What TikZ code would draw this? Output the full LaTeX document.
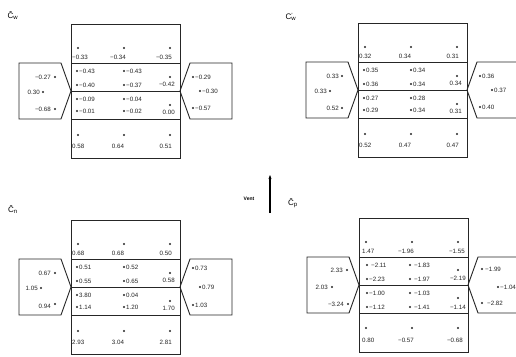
\documentclass[tikz,border=0pt]{standalone}
\usepackage{fontspec}
\setmainfont{Liberation Sans}
\usetikzlibrary{arrows.meta}
\newcounter{vn}
\newcommand\vdot[2]{\fill[dotc] (#1,#2) circle (1.1);}
\newcommand\vtxt[4][center]{\stepcounter{vn}\node[val,anchor=#1] (v\arabic{vn}) at (#2,#3) {#4};}
\newcommand\panelframe{%
  \draw[boxline] (0,0) rectangle (109,134);
  \draw[boxline] (0,39) -- (109,39);
  \draw[boxline] (0,67) -- (109,67);
  \draw[boxline] (0,95) -- (109,95);
  \draw[boxline] (0,67) -- (-10,39) -- (-52,39) -- (-52,95) -- (-10,95) -- cycle;
  \draw[boxline] (109,67) -- (119,39) -- (161,39) -- (161,95) -- (119,95) -- cycle;
}
\tikzset{
  boxline/.style={draw=black!85, line width=0.9pt, line join=miter},
  dotc/.style={black!85},
  val/.style={inner sep=0pt, font=\fontsize{6.2}{7}\selectfont, text=black!85},
  plabel/.style={inner sep=0pt, font=\fontsize{8}{9}\selectfont},
}
\begin{document}
\begin{tikzpicture}[x=1pt,y=-1pt]
\clip (0,0) rectangle (516,356);
\fill[white] (0,0) rectangle (516,356);

% ---------- top-left panel ----------
\node[plabel] (lw) at (13,16) {Ĉ\textsubscript{w}};
\begin{scope}[shift={(71,24)}]
\panelframe
\vdot{7}{24}\vdot{53}{24}\vdot{99}{24}
\vtxt[west]{1}{33}{−0.33}\vtxt{47}{33}{−0.34}\vtxt[east]{101}{33}{−0.35}
\vdot{6}{47}\vtxt[west]{8}{47}{−0.43}\vdot{53}{47}\vtxt[west]{55}{47}{−0.43}
\vdot{6}{61}\vtxt[west]{8}{61}{−0.40}\vdot{53}{61}\vtxt[west]{55}{61}{−0.37}
\vdot{99}{53}\vtxt[east]{104}{60}{−0.42}
\vdot{6}{75}\vtxt[west]{8}{75}{−0.09}\vdot{53}{75}\vtxt[west]{55}{75}{−0.04}
\vdot{6}{87}\vtxt[west]{8}{87}{−0.01}\vdot{53}{87}\vtxt[west]{55}{87}{−0.02}
\vdot{99}{81}\vtxt[east]{104}{88}{0.00}
\vdot{7}{111}\vdot{53}{111}\vdot{99}{111}
\vtxt[west]{1}{122}{0.58}\vtxt{47}{122}{0.64}\vtxt[east]{101}{122}{0.51}
\vtxt[east]{-20}{53}{−0.27}\vdot{-16}{53}
\vtxt[east]{-31}{68}{0.30}\vdot{-28}{68}
\vtxt[east]{-20}{85}{−0.68}\vdot{-16}{85}
\vdot{122}{53}\vtxt[west]{124}{53}{−0.29}
\vdot{129}{67}\vtxt[west]{131}{67}{−0.30}
\vdot{122}{84}\vtxt[west]{124}{84}{−0.57}
\end{scope}

% ---------- top-right panel ----------
\node[plabel] (lw2) at (291,17) {C\rlap{\textsuperscript{'}}\textsubscript{w}};
\begin{scope}[shift={(358,23)}]
\panelframe
\vdot{7}{24}\vdot{53}{24}\vdot{99}{24}
\vtxt[west]{1}{33}{0.32}\vtxt{47}{33}{0.34}\vtxt[east]{101}{33}{0.31}
\vdot{6}{47}\vtxt[west]{8}{47}{0.35}\vdot{53}{47}\vtxt[west]{55}{47}{0.34}
\vdot{6}{61}\vtxt[west]{8}{61}{0.36}\vdot{53}{61}\vtxt[west]{55}{61}{0.34}
\vdot{99}{53}\vtxt[east]{104}{60}{0.34}
\vdot{6}{75}\vtxt[west]{8}{75}{0.27}\vdot{53}{75}\vtxt[west]{55}{75}{0.28}
\vdot{6}{87}\vtxt[west]{8}{87}{0.29}\vdot{53}{87}\vtxt[west]{55}{87}{0.34}
\vdot{99}{81}\vtxt[east]{104}{88}{0.31}
\vdot{7}{111}\vdot{53}{111}\vdot{99}{111}
\vtxt[west]{1}{122}{0.52}\vtxt{47}{122}{0.47}\vtxt[east]{101}{122}{0.47}
\vtxt[east]{-19}{53}{0.33}\vdot{-16}{53}
\vtxt[east]{-31}{68}{0.33}\vdot{-28}{68}
\vtxt[east]{-19}{85}{0.52}\vdot{-16}{85}
\vdot{122}{53}\vtxt[west]{124}{53}{0.36}
\vdot{134}{67}\vtxt[west]{136}{67}{0.37}
\vdot{122}{84}\vtxt[west]{124}{84}{0.40}
\end{scope}

% ---------- bottom-left panel ----------
\node[plabel] (ln) at (13,210) {Ĉ\textsubscript{n}};
\begin{scope}[shift={(71,220)}]
\panelframe
\vdot{7}{24}\vdot{53}{24}\vdot{99}{24}
\vtxt[west]{1}{33}{0.68}\vtxt{47}{33}{0.68}\vtxt[east]{101}{33}{0.50}
\vdot{6}{47}\vtxt[west]{8}{47}{0.51}\vdot{53}{47}\vtxt[west]{55}{47}{0.52}
\vdot{6}{61}\vtxt[west]{8}{61}{0.55}\vdot{53}{61}\vtxt[west]{55}{61}{0.65}
\vdot{99}{53}\vtxt[east]{104}{60}{0.58}
\vdot{6}{75}\vtxt[west]{8}{75}{3.80}\vdot{53}{75}\vtxt[west]{55}{75}{0.04}
\vdot{6}{87}\vtxt[west]{8}{87}{1.14}\vdot{53}{87}\vtxt[west]{55}{87}{1.20}
\vdot{99}{81}\vtxt[east]{104}{88}{1.70}
\vdot{7}{111}\vdot{53}{111}\vdot{99}{111}
\vtxt[west]{1}{122}{2.93}\vtxt{47}{122}{3.04}\vtxt[east]{101}{122}{2.81}
\vtxt[east]{-20}{53}{0.67}\vdot{-16}{53}
\vtxt[east]{-33}{68}{1.05}\vdot{-30}{68}
\vtxt[east]{-20}{86}{0.94}\vdot{-16}{84}
\vdot{122}{48}\vtxt[west]{124}{48}{0.73}
\vdot{129}{67}\vtxt[west]{131}{67}{0.79}
\vdot{122}{85}\vtxt[west]{124}{85}{1.03}
\end{scope}

% ---------- bottom-right panel ----------
\node[plabel] (lp) at (293,203) {Ĉ\textsubscript{p}};
\begin{scope}[shift={(359,218)}]
\panelframe
\vdot{7}{24}\vdot{53}{24}\vdot{99}{24}
\vtxt[west]{3}{33}{1.47}\vtxt{47}{33}{−1.96}\vtxt[east]{106}{33}{−1.55}
\vdot{8}{47}\vtxt[west]{12}{47}{−2.11}\vdot{51}{47}\vtxt[west]{55}{47}{−1.83}
\vdot{8}{61}\vtxt[west]{10}{61}{−2.23}\vdot{51}{61}\vtxt[west]{55}{61}{−1.97}
\vdot{99}{52}\vtxt[east]{107}{60}{−2.19}
\vdot{8}{75}\vtxt[west]{10}{75}{−1.00}\vdot{51}{75}\vtxt[west]{55}{75}{−1.03}
\vdot{8}{89}\vtxt[west]{10}{89}{−1.12}\vdot{51}{89}\vtxt[west]{55}{89}{−1.41}
\vdot{99}{80}\vtxt[east]{107}{89}{−1.14}
\vdot{7}{110}\vdot{53}{110}\vdot{99}{110}
\vtxt[west]{3}{122}{0.80}\vtxt{47}{122}{−0.57}\vtxt[east]{104}{122}{−0.68}
\vtxt[east]{-16}{52}{2.33}\vdot{-12}{52}
\vtxt[east]{-31}{69}{2.03}\vdot{-27}{69}
\vtxt[east]{-15}{86}{−3.24}\vdot{-11}{86}
\vdot{123}{51}\vtxt[west]{126}{51}{−1.99}
\vdot{139}{69}\vtxt[west]{141}{69}{−1.04}
\vdot{123}{85}\vtxt[west]{128}{85}{−2.82}
\end{scope}

% ---------- wind direction ----------
\node[inner sep=0pt, font=\fontsize{5}{6}\selectfont\bfseries] (vent) at (249,199) {Vent};
\coordinate (va) at (270,213);
\coordinate (vb) at (270,175);
\draw[line width=1.1pt, -{Stealth[length=4pt,width=3pt]}] (va) -- (vb);
\end{tikzpicture}
\end{document}
